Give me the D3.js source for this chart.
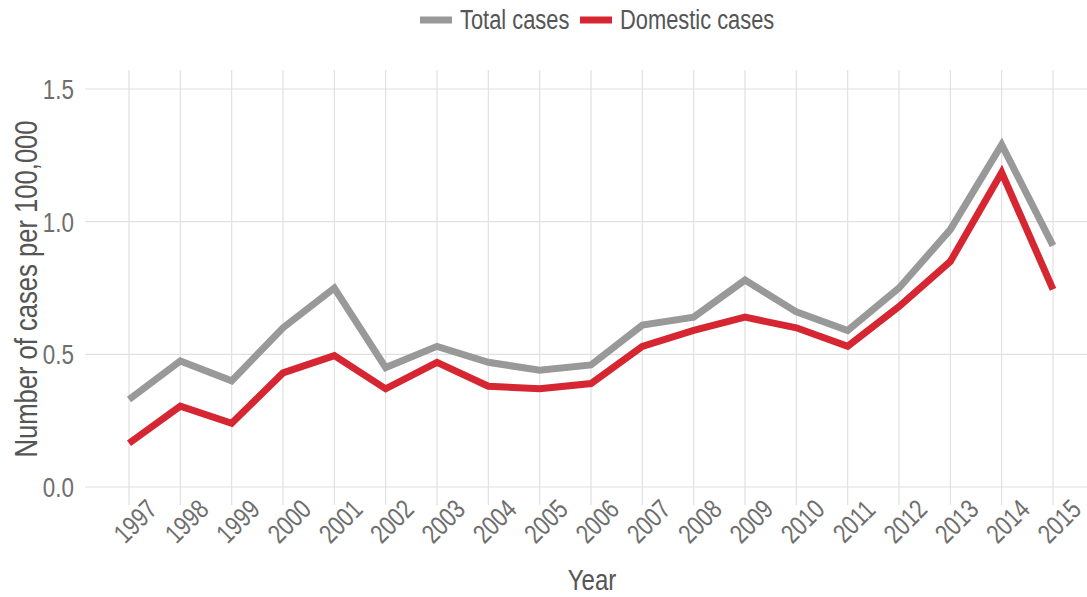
<!DOCTYPE html>
<html>
<head>
<meta charset="utf-8">
<script src="https://cdn.jsdelivr.net/npm/d3@7"></script>
<style>
  body { margin: 0; background: #fff; }
  svg { display: block; font-family: "Liberation Sans", Arial, sans-serif; }
  .grid line { stroke: #e0e0e0; stroke-width: 1.2; }
</style>
</head>
<body>
<svg id="chart" width="1087" height="597"></svg>
<script>
const years = [1997, 1998, 1999, 2000, 2001, 2002, 2003, 2004, 2005, 2006,
  2007, 2008, 2009, 2010, 2011, 2012, 2013, 2014, 2015];
const totalCases = [0.33, 0.475, 0.40, 0.60, 0.75, 0.45, 0.53, 0.47, 0.44, 0.46,
  0.61, 0.64, 0.78, 0.66, 0.59, 0.75, 0.97, 1.29, 0.91];
const domesticCases = [0.165, 0.305, 0.24, 0.43, 0.495, 0.37, 0.47, 0.38, 0.37, 0.39,
  0.53, 0.59, 0.64, 0.60, 0.53, 0.68, 0.85, 1.185, 0.745];
const yTicks = [0, 0.5, 1.0, 1.5];
const seriesNames = ['Total cases', 'Domestic cases'];
const seriesColors = ['#999999', '#d62632'];

const svg = d3.select('#chart');
const W = 1087;
const narrow = 0.8; // squeeze Liberation Sans to look like a narrow face

// panel extents
const panelLeft = 85, panelTop = 70, zeroY = 487, panelBottom = 505;

const x = d3.scalePoint()
  .domain(years)
  .range([129, 1053]);

const y = d3.scaleLinear()
  .domain([0, 1.5])
  .range([zeroY, 89]);

// grid
const grid = svg.append('g').attr('class', 'grid');
grid.selectAll('.hg')
  .data(yTicks)
  .enter().append('line')
  .attr('x1', panelLeft).attr('x2', W)
  .attr('y1', d => y(d)).attr('y2', d => y(d));
grid.selectAll('.vg')
  .data(years)
  .enter().append('line')
  .attr('x1', d => x(d)).attr('x2', d => x(d))
  .attr('y1', panelTop).attr('y2', panelBottom);

// y tick labels
svg.append('g').selectAll('text')
  .data(yTicks)
  .enter().append('text')
  .attr('transform', d => `translate(74,${y(d)}) scale(${narrow},1)`)
  .attr('dy', '0.36em')
  .attr('text-anchor', 'end')
  .attr('fill', '#6e6e6e')
  .style('font-size', '28px')
  .text(d => d3.format('.1f')(d));

// x tick labels, rotated
svg.append('g').selectAll('text')
  .data(years)
  .enter().append('text')
  .attr('transform', d => `translate(${x(d) + 6},521) rotate(-45) scale(${narrow},1)`)
  .attr('text-anchor', 'middle')
  .attr('dy', '0.36em')
  .attr('fill', '#6e6e6e')
  .style('font-size', '27px')
  .text(d => d);

// axis titles
svg.append('text')
  .attr('transform', `translate(37,289) rotate(-90) scale(${narrow},1)`)
  .attr('text-anchor', 'middle')
  .style('font-size', '32px')
  .attr('fill', '#555')
  .text('Number of cases per 100,000');

svg.append('text')
  .attr('transform', `translate(592,590) scale(${narrow},1)`)
  .attr('text-anchor', 'middle')
  .style('font-size', '30px')
  .attr('fill', '#555')
  .text('Year');

// lines
const line = d3.line()
  .x((d, i) => x(years[i]))
  .y(d => y(d));

[totalCases, domesticCases].forEach((vals, k) => {
  svg.append('path')
    .datum(vals)
    .attr('d', line)
    .attr('fill', 'none')
    .attr('stroke', seriesColors[k])
    .attr('stroke-width', 7)
    .attr('stroke-linejoin', 'miter');
});

// legend
const legendX = [420, 580];
const legend = svg.append('g');
seriesNames.forEach((name, k) => {
  legend.append('line')
    .attr('x1', legendX[k]).attr('x2', legendX[k] + 32)
    .attr('y1', 20).attr('y2', 20)
    .attr('stroke', seriesColors[k])
    .attr('stroke-width', 7);
  legend.append('text')
    .attr('transform', `translate(${legendX[k] + 40},29) scale(0.81,1)`)
    .style('font-size', '27px')
    .attr('fill', '#555')
    .text(name);
});
</script>
</body>
</html>
